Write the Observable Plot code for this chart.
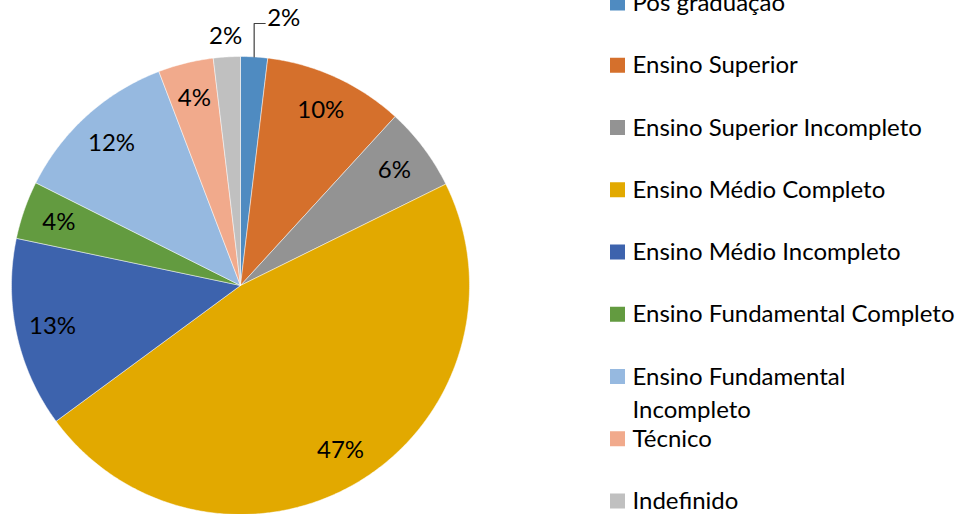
<!DOCTYPE html>
<html><head><meta charset="utf-8">
<script src="https://cdn.jsdelivr.net/npm/d3@7"></script>
<script src="https://cdn.jsdelivr.net/npm/@observablehq/plot@0.6"></script>
<style>html,body{margin:0;padding:0;background:#fff;overflow:hidden}</style>
</head><body><div id="chart"></div>
<script>
const categories = ["Pós graduação","Ensino Superior","Ensino Superior Incompleto","Ensino Médio Completo","Ensino Médio Incompleto","Ensino Fundamental Completo","Ensino Fundamental Incompleto","Técnico","Indefinido"];
const values = [1.9, 9.9, 5.9, 47.2, 13.4, 4.1, 11.8, 3.9, 1.9];
const percentLabels = ["2%","10%","6%","47%","13%","4%","12%","4%","2%"];
const legendLabels = [["Pós graduação"],["Ensino Superior"],["Ensino Superior Incompleto"],["Ensino Médio Completo"],["Ensino Médio Incompleto"],["Ensino Fundamental Completo"],["Ensino Fundamental","Incompleto"],["Técnico"],["Indefinido"]];
const colors = ["#4f8bc1","#d5702c","#939393","#e2a900","#3d63ad","#639b40","#96b9e0","#f1aa8c","#c0c0c0"];

// layout
const W = 970, H = 514, cx = 240, cy = 285, R = 229;
const FONT = "Lato", FS = 24;
const pt = (a, r) => ({x: cx + r * Math.sin(a), y: cy - r * Math.cos(a)});

const arcs = d3.pie().sort(null).value(d => d)(values);

const slicePts = arcs.flatMap((a, i) => {
  const cat = categories[i];
  const n = Math.max(2, Math.ceil((a.endAngle - a.startAngle) / (Math.PI / 360)));
  const pts = [{cat, x: cx, y: cy}];
  for (let k = 0; k <= n; ++k) {
    const t = a.startAngle + (a.endAngle - a.startAngle) * k / n;
    pts.push({cat, ...pt(t, R)});
  }
  pts.push({cat, x: cx, y: cy});
  return pts;
});

// labels: inside at 0.84R, the small slices outside
const labelData = [];
const leader = [];
arcs.forEach((a, i) => {
  const mid = (a.startAngle + a.endAngle) / 2;
  if (i === 0) {
    const p = pt(mid, R);
    const top = cy - R - 33;
    leader.push({x: p.x, y: p.y}, {x: p.x, y: top}, {x: p.x + 11, y: top});
    labelData.push({x: p.x + 13, y: top - 5, text: percentLabels[i], anchor: "start"});
  } else if (values[i] < 2.5) {
    labelData.push({...pt(mid, R * 1.09), text: percentLabels[i], anchor: "middle"});
  } else {
    labelData.push({...pt(mid, R * 0.84), text: percentLabels[i], anchor: "middle"});
  }
});

// legend rows
const rowY = i => 3 + 62.25 * i;
const legendRects = categories.map((c, i) => ({cat: c, y1: rowY(i) - 7.5, y2: rowY(i) + 7.5}));
const legendText = legendLabels.flatMap((lines, i) => lines.map((t, j) => ({text: t, y: rowY(i) + 33 * j})));

const chart = Plot.plot({
  width: W, height: H, margin: 0,
  x: {domain: [0, W], range: [0, W], axis: null},
  y: {domain: [0, H], range: [0, H], axis: null},
  color: {domain: categories, range: colors},
  style: {fontFamily: FONT, background: "white"},
  marks: [
    Plot.line(slicePts, {x: "x", y: "y", z: "cat", fill: "cat", stroke: "#ffffff", strokeWidth: 0.6, strokeOpacity: 0.8, curve: "linear"}),
    Plot.line(leader, {x: "x", y: "y", stroke: "#404040", strokeWidth: 1.2}),
    Plot.text(labelData.filter(d => d.anchor === "middle"), {x: "x", y: "y", text: "text", fontSize: FS, fill: "#000", textAnchor: "middle"}),
    Plot.text(labelData.filter(d => d.anchor === "start"), {x: "x", y: "y", text: "text", fontSize: FS, fill: "#000", textAnchor: "start"}),
    Plot.rect(legendRects, {x1: 610, x2: 625, y1: "y1", y2: "y2", fill: "cat"}),
    Plot.text(legendText, {x: 632, y: "y", text: "text", fontSize: FS, fill: "#000", textAnchor: "start"})
  ]
});
document.getElementById("chart").appendChild(chart);
</script>
</body></html>
